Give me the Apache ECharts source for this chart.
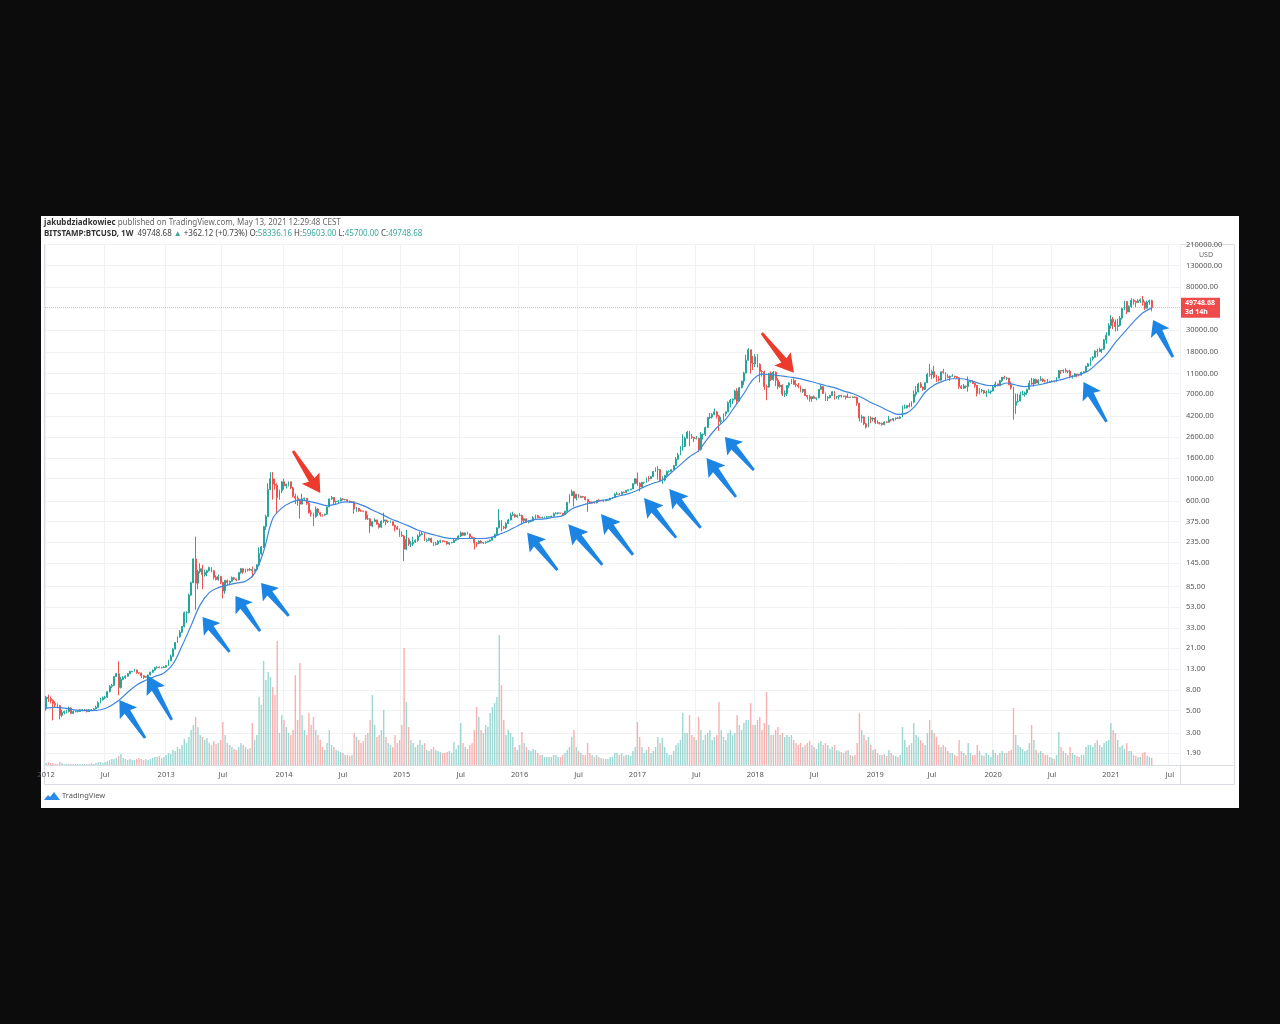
<!DOCTYPE html>
<html><head><meta charset="utf-8">
<script src="https://cdn.jsdelivr.net/npm/echarts@6/dist/echarts.min.js"></script>
<style>
html,body{margin:0;padding:0;background:#0c0c0c;width:1280px;height:1024px;overflow:hidden}
#panel{position:absolute;left:41px;top:216px;width:1198px;height:592px;background:#fff}
#chart{position:absolute;left:0;top:0;width:1280px;height:1024px}
</style></head><body>
<div id="panel"></div><div id="chart"></div>
<script>
// ---- weekly BITSTAMP:BTCUSD candles, weeks starting Monday 2012-01-02 ----
const START_DATE = '2012-01-02';
const N_SLOTS = 501; // weekly slots shown on the time axis (data + empty right margin)

const open = [5.2,
6.8,6.6,6.3,5.9,5.7,5.6,4.5,4.8,4.9,4.9,5.3,4.7,4.9,4.9,4.9,5.1,5.1,5.1,4.9,5.1,5.1,5.2,5.4,6.0,6.4,6.7,6.8,7.7,8.7,8.9,10.9,11.6,8.5,10.2,10.6,11.0,11.6,12.2,12.3,12.6,11.9,11.8,11.1,10.7,10.9,11.3,12.0,12.6,13.3,13.5,13.4,13.4,
13.5,14.0,15.6,17.3,20.4,23.7,27.0,29.9,34.2,46.9,47,70,93,160,92,120,128,112,117,122,131,122,105,100,107,94,77,98,93,96,104,101,99,117,128,119,125,124,126,122,126,140,180,210,335,420,780,1000,880,860,650,760,
930,850,880,930,810,670,640,610,560,630,640,570,460,450,420,500,460,440,435,445,525,630,650,590,595,600,630,620,620,600,590,590,500,510,480,478,475,400,400,340,375,390,355,330,380,390,375,375,375,345,330,315,
275,270,200,250,225,225,235,245,270,280,285,245,245,255,235,222,226,240,242,240,238,225,232,233,245,250,270,290,275,290,282,265,260,230,228,240,230,232,235,240,245,260,280,325,385,330,325,360,390,435,440,420,
432,432,385,400,370,375,380,410,430,412,410,410,416,418,420,425,450,455,458,455,440,475,580,680,740,640,700,650,665,660,620,590,570,585,575,610,605,610,600,610,615,640,655,700,705,700,735,730,765,775,790,890,
1000,900,830,920,920,1010,1000,1050,1180,1230,1230,960,970,1080,1180,1180,1230,1350,1560,1720,2060,2080,2520,2900,2600,2570,2500,2520,1940,2750,2760,3220,4040,4090,4350,4600,4200,3700,3780,4400,4600,5680,6000,6150,7400,5900,8000,9300,11200,15000,19000,14000,
13800,16200,13600,11600,11500,8200,8100,11100,9600,11400,9500,8200,8500,6900,7000,8400,8900,9400,8600,8500,8200,7350,7700,6700,6500,6200,6500,6260,6350,7700,8200,7000,6300,6400,6700,7300,6500,6550,6700,6600,6600,6400,6450,6400,6450,6400,5600,4000,4100,3500,3250,4000,3900,
4000,3600,3550,3550,3450,3650,3620,3850,3830,3950,4000,3980,4100,5050,5050,5300,5200,5750,6900,7250,8700,8100,7700,8950,10800,10750,11500,10200,9800,9500,11500,11300,10300,10100,10400,10400,10300,10050,8200,7900,8300,8200,9200,9200,8800,8450,7000,7450,7500,7100,7150,7250,
7400,8100,8700,8350,9350,10150,9900,9950,8550,8000,5350,5800,5900,6780,6900,7100,7700,8900,8700,9700,8900,9450,9700,9350,9300,9000,9100,9250,9150,9950,11800,11700,11900,11650,11700,10250,10350,10950,10750,10650,11350,11500,13000,13800,15500,16000,18400,18200,19150,19250,23850,26450,
33000,38150,35800,32300,33100,39200,48600,57400,45150,50950,59000,57300,55800,58200,59800,56200,49100,56600,58336.16];

const close = [
6.8,6.6,6.3,5.9,5.7,5.6,4.5,4.8,4.9,4.9,5.3,4.7,4.9,4.9,4.9,5.1,5.1,5.1,4.9,5.1,5.1,5.2,5.4,6.0,6.4,6.7,6.8,7.7,8.7,8.9,10.9,11.6,8.5,10.2,10.6,11.0,11.6,12.2,12.3,12.6,11.9,11.8,11.1,10.7,10.9,11.3,12.0,12.6,13.3,13.5,13.4,13.4,13.5,
14.0,15.6,17.3,20.4,23.7,27.0,29.9,34.2,46.9,47,70,93,160,92,120,128,112,117,122,131,122,105,100,107,94,77,98,93,96,104,101,99,117,128,119,125,124,126,122,126,140,180,210,335,420,780,1000,880,860,650,760,930,
850,880,930,810,670,640,610,560,630,640,570,460,450,420,500,460,440,435,445,525,630,650,590,595,600,630,620,620,600,590,590,500,510,480,478,475,400,400,340,375,390,355,330,380,390,375,375,375,345,330,315,275,
270,200,250,225,225,235,245,270,280,285,245,245,255,235,222,226,240,242,240,238,225,232,233,245,250,270,290,275,290,282,265,260,230,228,240,230,232,235,240,245,260,280,325,385,330,325,360,390,435,440,420,432,
432,385,400,370,375,380,410,430,412,410,410,416,418,420,425,450,455,458,455,440,475,580,680,740,640,700,650,665,660,620,590,570,585,575,610,605,610,600,610,615,640,655,700,705,700,735,730,765,775,790,890,1000,
900,830,920,920,1010,1000,1050,1180,1230,1230,960,970,1080,1180,1180,1230,1350,1560,1720,2060,2080,2520,2900,2600,2570,2500,2520,1940,2750,2760,3220,4040,4090,4350,4600,4200,3700,3780,4400,4600,5680,6000,6150,7400,5900,8000,9300,11200,15000,19000,14000,13800,
16200,13600,11600,11500,8200,8100,11100,9600,11400,9500,8200,8500,6900,7000,8400,8900,9400,8600,8500,8200,7350,7700,6700,6500,6200,6500,6260,6350,7700,8200,7000,6300,6400,6700,7300,6500,6550,6700,6600,6600,6400,6450,6400,6450,6400,5600,4000,4100,3500,3250,4000,3900,4000,
3600,3550,3550,3450,3650,3620,3850,3830,3950,4000,3980,4100,5050,5050,5300,5200,5750,6900,7250,8700,8100,7700,8950,10800,10750,11500,10200,9800,9500,11500,11300,10300,10100,10400,10400,10300,10050,8200,7900,8300,8200,9200,9200,8800,8450,7000,7450,7500,7100,7150,7250,7400,
8100,8700,8350,9350,10150,9900,9950,8550,8000,5350,5800,5900,6780,6900,7100,7700,8900,8700,9700,8900,9450,9700,9350,9300,9000,9100,9250,9150,9950,11800,11700,11900,11650,11700,10250,10350,10950,10750,10650,11350,11500,13000,13800,15500,16000,18400,18200,19150,19250,23850,26450,33000,
38150,35800,32300,33100,39200,48600,57400,45150,50950,59000,57300,55800,58200,59800,56200,49100,56600,58336.16,49748.68];

const high = [
7.0,7.2,6.9,6.5,6.2,5.9,5.7,5.1,5.0,5.1,5.5,5.4,5.0,5.0,5.0,5.2,5.2,5.2,5.15,5.2,5.2,5.3,5.6,6.2,6.7,6.9,7.0,7.8,9.0,9.2,11.0,11.8,15.4,10.8,11.0,11.2,11.8,12.5,12.4,13.0,12.8,12.0,11.9,11.2,11.0,11.4,12.2,12.8,13.6,13.8,13.7,13.6,13.8,
14.2,16.0,18.0,20.8,24.0,27.3,31.5,34.5,48.0,48.4,72,95,162,266,125,145,140,125,125,134,133,124,110,112,108,95,99,100,98,107,106,102,118,130,129,128,128,130,134,128,142,208,215,340,440,900,1160,1163,1000,900,780,950,
1000,890,940,935,830,710,680,620,710,650,645,590,490,460,530,510,465,445,450,530,635,675,655,605,610,650,640,630,625,605,595,592,525,515,495,480,478,440,405,380,405,392,365,385,460,392,385,385,378,350,340,320,
300,275,310,260,240,265,250,280,300,300,290,255,260,260,237,237,245,248,245,242,240,235,237,253,255,275,300,295,293,298,285,270,262,235,245,245,236,240,242,250,265,285,330,500,390,340,370,400,460,470,450,440,
455,440,410,405,385,385,425,440,437,422,420,420,425,425,430,460,465,463,460,456,480,590,700,780,760,710,705,680,675,665,625,600,590,590,615,630,615,612,615,620,645,660,720,740,720,750,745,775,780,795,900,1005,
1150,920,925,930,1030,1060,1060,1190,1290,1330,1250,1060,1090,1200,1210,1240,1360,1640,1800,2100,2760,2600,2980,2970,2780,2600,2650,2550,2900,2810,3280,4100,4480,4460,4980,4700,4300,4100,4420,4640,5850,6200,6260,7600,7900,8100,9400,11500,17000,19700,19100,16500,
17200,17200,14000,12000,11800,8600,11200,11600,11700,11600,9900,9100,8600,7500,8450,9000,9750,9950,9500,8900,8400,7800,7770,6750,6800,6540,6700,6390,7700,8500,8250,7150,6600,6800,7400,7400,6600,6750,6800,6650,6650,7000,6500,6550,6550,6500,5650,4300,4150,3600,4200,4150,4050,
4100,3800,3650,3600,3700,3700,4200,3900,4000,4050,4100,4150,5300,5450,5350,5650,5850,7500,8300,8950,9100,8200,9000,11200,13800,12000,13200,10700,10400,11500,12300,11400,10900,10500,10900,10500,10350,10100,8500,8700,8400,10300,9450,9500,8850,8500,7900,7750,7550,7500,7700,7500,
8450,9200,8800,9550,10200,10500,10200,9990,9200,8150,7000,6950,7300,7450,7300,7800,9450,10000,9900,9800,9700,10400,9900,9600,9780,9350,9450,9300,10150,12000,11900,12100,12480,11800,12050,10600,11200,10990,10950,11500,11700,13250,14100,15950,16450,18800,19400,19900,19450,24300,28400,34800,
41950,40100,37850,38600,41000,49750,58300,57500,52600,61700,60650,58450,60200,61200,64900,57500,58400,59500,59603];

const low = [
5.0,6.1,5.9,4.0,5.4,5.4,4.1,4.3,4.6,4.7,4.8,4.6,4.6,4.8,4.8,4.85,5.0,5.0,4.8,4.85,5.0,5.05,5.15,5.35,5.9,6.3,6.5,6.7,7.6,8.4,8.8,10.8,7.1,8.3,10.0,10.3,10.9,11.5,12.0,12.2,11.6,11.5,10.5,10.3,10.6,10.8,11.2,11.9,12.5,13.1,13.2,13.1,13.2,
13.3,13.9,15.5,17.2,20.2,23.5,26.5,29.5,33.5,37.0,46,69,92,50,80,115,80,107,108,120,118,100,98,97,90,65,72,88,88,95,99,96,98,114,114,117,120,122,105,120,125,138,175,205,310,415,770,620,780,455,620,720,
780,800,840,790,650,560,540,400,555,610,550,450,420,340,410,430,420,420,430,440,520,620,560,560,560,595,610,610,590,575,575,450,470,470,470,465,390,390,290,330,370,350,320,325,365,345,365,365,340,300,312,265,
265,152,195,215,210,215,230,235,265,275,240,235,240,230,215,218,220,230,233,234,222,220,228,230,240,248,265,270,272,280,258,255,198,210,225,228,225,225,233,236,243,258,278,320,300,315,315,355,385,425,410,410,
425,350,365,365,360,370,378,400,405,405,405,408,410,415,418,423,445,442,450,435,438,470,570,675,530,610,640,640,645,610,470,565,565,565,570,600,600,590,598,605,610,630,650,690,690,695,725,728,750,770,788,880,
850,750,820,890,915,940,990,1045,1170,980,950,890,940,1070,1150,1175,1225,1345,1550,1710,1900,2070,2500,2100,2480,2300,2450,1830,1900,2450,2650,3200,3900,3950,4250,3950,2980,3500,3750,4150,4580,5100,5500,6100,5500,5850,7900,8500,11100,14800,11000,12000,
12800,12700,9000,10300,7600,6000,8000,9300,9400,8300,7700,8000,6600,6450,6600,7900,8700,8550,8100,7900,7200,7100,6600,6100,5800,5800,6250,6000,6250,7650,6900,5900,5900,6250,6650,6100,6200,6100,6350,6450,6100,6350,6380,6300,6300,5300,3700,3600,3400,3150,3240,3550,3700,
3500,3500,3450,3350,3380,3550,3600,3700,3700,3800,3900,3900,4080,4950,4980,5100,5150,5600,6500,7200,7950,7450,7600,8900,10300,9700,9900,9100,9200,9400,11000,9500,9900,9300,10300,9950,9800,7800,7750,7800,7850,7300,8950,8700,8000,6550,6850,7150,6900,6450,7050,6900,
7350,8050,8250,8300,9150,9700,9500,8450,7650,3850,4400,5700,5850,6750,6500,6800,7650,8550,8200,8700,8650,9300,9150,9000,8850,8950,9050,9050,9100,9900,10900,11200,11300,11100,9900,9850,10200,10150,10400,10550,11200,11400,12950,13200,14850,15900,16300,18100,17600,19000,21850,26400,
31000,30400,28800,29200,32300,37900,47050,43000,44950,49300,53250,50500,55600,55400,51800,47200,48750,53000,45700];

// weekly volume (thousand BTC)
const volume = [
8,12,8,8,4,4,12,8,4,4,4,4,4,4,4,4,4,4,4,4,8,4,8,12,12,8,12,16,20,24,24,28,36,44,28,24,20,24,20,20,24,28,24,20,24,20,24,28,32,32,36,28,32,
40,48,44,60,56,72,64,80,104,88,112,140,160,192,152,120,112,100,108,88,80,96,84,88,100,172,120,88,80,72,64,60,72,88,80,72,64,68,168,100,120,272,240,416,340,372,352,312,280,496,128,200,
180,152,128,120,140,360,180,408,200,140,120,208,160,192,140,120,100,72,60,88,140,80,72,60,56,52,48,40,40,36,40,128,112,100,88,96,120,128,180,280,160,112,120,140,220,112,88,80,72,120,88,100,
160,468,252,152,100,88,72,80,100,80,88,60,56,64,72,60,56,52,48,48,52,56,48,92,64,80,168,88,72,64,80,88,140,232,192,140,128,160,152,208,232,248,272,520,320,180,120,140,128,112,72,60,
80,132,88,72,60,56,64,60,48,40,40,32,32,32,32,40,40,32,32,40,48,60,72,112,140,72,56,48,40,40,88,48,40,32,40,32,28,24,24,24,32,32,48,48,40,48,36,40,40,36,56,72,
172,112,72,48,60,72,48,56,72,112,88,108,72,48,40,40,56,80,88,100,208,128,128,200,120,112,100,192,140,100,120,128,140,100,112,120,252,140,112,100,128,140,120,128,200,160,140,168,180,180,248,160,
160,180,192,140,168,292,160,120,120,140,152,120,128,112,120,112,120,100,88,80,88,72,80,88,96,80,72,64,88,96,80,88,80,64,72,80,60,56,52,48,56,60,40,36,40,88,208,140,120,100,112,80,60,
64,48,40,40,44,36,60,48,40,36,32,40,152,100,72,80,88,168,120,112,100,88,80,128,180,140,128,112,80,72,80,72,56,48,48,40,36,100,56,48,40,88,48,40,40,80,56,40,36,48,40,32,
60,48,40,48,56,48,48,56,60,228,120,80,72,64,56,60,88,160,100,60,48,56,48,40,40,32,28,24,40,132,72,56,48,40,72,48,40,36,32,40,40,72,80,80,72,88,100,80,72,88,96,100,
168,140,128,100,72,80,64,88,56,56,40,36,32,32,48,52,36,32,28];
const VOLUME_AXIS_MAX = 2084;

// blue moving average line, read every 4 weeks
const MA_STEP = 4;
const ma = [5.3,5.4,5.3,5.1,5.0,5.0,5.1,5.5,6.3,7.6,9.0,10.0,10.9,11.8,14.5,22,35,56,74,83,88,92,96,115,190,400,510,580,615,595,570,540,560,590,580,540,490,445,400,370,340,310,290,275,260,255,255,255,255,260,280,305,340,375,395,400,415,430,500,540,575,600,625,665,700,750,830,900,970,1150,1380,1650,1900,2500,3200,3900,5200,7000,9600,10900,10800,10500,10200,9900,9400,8900,8400,8000,7400,7000,6400,5700,5200,4700,4350,4500,5400,7200,8500,9300,9800,9800,9400,8800,8400,8400,8900,8500,8200,8400,8700,9200,9600,10200,10800,11700,14000,17000,22500,28500,36000,44000,49500];

// price scale labels (log scale)
const priceTicks = [1.9,3,5,8,13,21,33,53,85,145,235,375,600,1000,1600,2600,4200,7000,11000,18000,30000,80000,130000,210000];
const PRICE_MIN = 1.4447, PRICE_MAX = 212900;
const LAST_PRICE = 49748.68, COUNTDOWN = '3d 14h';

// drawn arrows: week index, price at arrow centre, rotation, length, colour
const arrows = [
 {w:38,p:4.13,r:34,len:46,c:'b'},{w:50,p:6.75,r:29,len:51,c:'b'},{w:75,p:28.5,r:38,len:44,c:'b'},
 {w:89,p:46,r:35,len:43,c:'b'},{w:101,p:63.3,r:40,len:43,c:'b'},{w:115,p:1165,r:213,len:50,c:'r'},
 {w:219,p:190,r:39,len:48,c:'b'},{w:238,p:222,r:40,len:53,c:'b'},{w:252,p:280,r:38,len:52,c:'b'},
 {w:271,p:408,r:39,len:51,c:'b'},{w:282,p:506,r:39,len:50,c:'b'},{w:298,p:1028,r:37,len:49,c:'b'},
 {w:306,p:1778,r:41,len:44,c:'b'},{w:323,p:17660,r:219,len:51,c:'r'},{w:463,p:5765,r:30,len:46,c:'b'},
 {w:493,p:24600,r:28,len:42,c:'b'}];

// ---- build ----
const dates = [];
const d0 = new Date(START_DATE + 'T00:00:00Z');
for (let i = 0; i < N_SLOTS; i++) dates.push(new Date(d0.getTime() + i * 7 * 864e5).toISOString().slice(0, 10));
function tickText(i) {
  const m = +dates[i].slice(5, 7);
  if (i === 0) return dates[0].slice(0, 4);
  const pm = +dates[i - 1].slice(5, 7);
  if (m !== pm && m === 1) return dates[i].slice(0, 4);
  if (m !== pm && m === 7) return 'Jul';
  return null;
}
const UP = '#26a69a', DOWN = '#ef5350';
const candleData = close.map((c, i) => [open[i], c, low[i], high[i]]);
const volData = volume.map((v, i) => ({ value: v, itemStyle: { color: close[i] >= open[i] ? 'rgba(38,166,154,0.45)' : 'rgba(239,83,80,0.45)' } }));
const maData = ma.map((v, i) => [i * MA_STEP, v]);
const ARROW = 'path://M10,0 L20,17 L13.2,15 L11.3,48 L8.7,48 L6.8,15 L0,17 Z';
const arrowData = arrows.map(a => ({ value: [a.w, a.p], symbolRotate: a.r, symbolSize: [21, a.len], itemStyle: { color: a.c === 'r' ? '#ec3a2d' : '#1c84e3', opacity: 1 } }));

const FONT = 'Noto Sans';
const chart = echarts.init(document.getElementById('chart'));
chart.setOption({
  animation: false,
  backgroundColor: 'transparent',
  textStyle: { fontFamily: FONT },
  grid: { left: 45, right: 100, top: 244, bottom: 259, containLabel: false },
  xAxis: {
    type: 'category', data: dates, boundaryGap: true,
    axisLine: { show: false }, axisTick: { show: false },
    axisLabel: { interval: (i) => tickText(i) !== null, formatter: (v, i) => tickText(i) || '', color: '#555', fontSize: 7.5, margin: 6, hideOverlap: false },
    splitLine: { show: true, interval: (i) => tickText(i) !== null, lineStyle: { color: '#f1f2f5', width: 1 } }
  },
  yAxis: [{
    type: 'log', logBase: 10, min: PRICE_MIN, max: PRICE_MAX, position: 'right',
    axisLine: { show: false },
    axisTick: { show: false, customValues: priceTicks },
    axisLabel: { customValues: priceTicks, formatter: v => (+v).toFixed(2), color: '#555', fontSize: 7.5, margin: 6 },
    splitLine: { show: true, lineStyle: { color: '#f1f2f5', width: 1 } }
  }, {
    type: 'value', min: 0, max: VOLUME_AXIS_MAX, show: false, splitLine: { show: false }
  }],
  series: [
    { type: 'bar', name: 'Volume', xAxisIndex: 0, yAxisIndex: 1, data: volData, barWidth: '62%', z: 1, silent: true },
    { type: 'candlestick', name: 'BTCUSD', yAxisIndex: 0, data: candleData, barWidth: '62%', z: 3,
      itemStyle: { color: UP, color0: DOWN, borderColor: UP, borderColor0: DOWN, borderWidth: 1 },
      markLine: { symbol: ['none', 'none'], silent: true, animation: false,
        data: [{ yAxis: LAST_PRICE }],
        lineStyle: { color: 'rgba(239,83,80,0.45)', type: 'dotted', width: 1 },
        label: { show: true, position: 'end', distance: 1, formatter: () => LAST_PRICE.toFixed(2) + '\n' + COUNTDOWN,
          color: '#ffffff', backgroundColor: '#ef4b4b', fontSize: 7, fontWeight: 'bold', lineHeight: 9, padding: [1, 5, 1, 4], opacity: 1 },
        emphasis: { disabled: true } } },
    { type: 'line', name: 'MA', yAxisIndex: 0, data: maData, smooth: 0.35, showSymbol: false, z: 4,
      lineStyle: { color: '#3f86dc', width: 1.2 } },
    { type: 'scatter', name: 'arrows', yAxisIndex: 0, data: arrowData, symbol: ARROW, symbolKeepAspect: false, z: 6, silent: true, clip: false }
  ],
  graphic: [
    { type: 'rect', shape: { x: 44.5, y: 244.5, width: 1190, height: 540 }, style: { fill: 'none', stroke: '#d9dce3', lineWidth: 1 }, silent: true },
    { type: 'line', shape: { x1: 1180.5, y1: 244, x2: 1180.5, y2: 785 }, style: { stroke: '#d9dce3', lineWidth: 1 }, silent: true },
    { type: 'line', shape: { x1: 44, y1: 765.5, x2: 1235, y2: 765.5 }, style: { stroke: '#d9dce3', lineWidth: 1 }, silent: true },
    { type: 'text', x: 44, y: 219, style: { text: '{b|jakubdziadkowiec} published on TradingView.com, May 13, 2021 12:29:48 CEST', fill: '#666', font: '8px ' + FONT,
      rich: { b: { fill: '#333', fontWeight: 'bold', fontSize: 8, fontFamily: FONT } } } },
    { type: 'text', x: 44, y: 230, style: { text: '{b|BITSTAMP:BTCUSD, 1W}  49748.68 {g|▲} +362.12 (+0.73%) O:{g|58336.16} H:{g|59603.00} L:{g|45700.00} C:{g|49748.68}', fill: '#444', font: '8px ' + FONT,
      rich: { b: { fill: '#333', fontWeight: 'bold', fontSize: 8, fontFamily: FONT }, g: { fill: '#3aa99c', fontSize: 8, fontFamily: FONT } } } },
    { type: 'text', x: 1199, y: 251, style: { text: 'USD', fill: '#666', font: '7px ' + FONT } },
    { type: 'polygon', shape: { points: [[44, 800], [48, 795], [50, 797], [54, 792], [60, 800]] }, style: { fill: '#2a8ce8' } },
    { type: 'text', x: 62, y: 792, style: { text: 'TradingView', fill: '#555', font: '7.5px ' + FONT } }
  ]
});
</script>
</body></html>
